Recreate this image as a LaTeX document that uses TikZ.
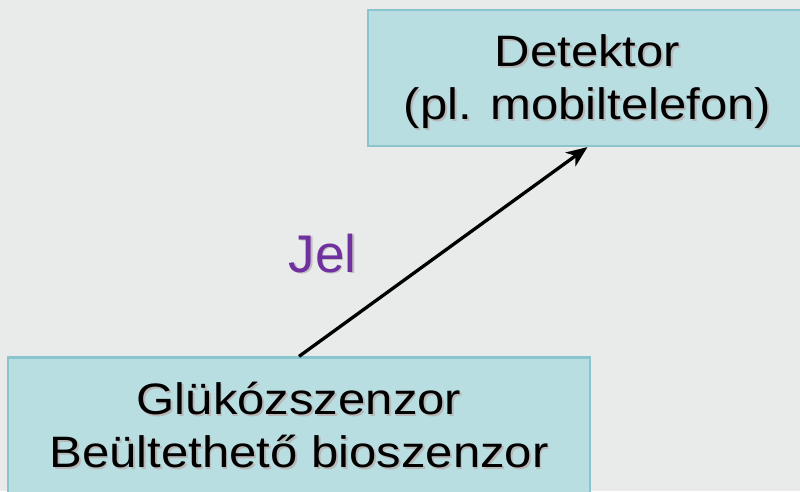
\documentclass[tikz,border=0pt]{standalone}
\usepackage{fontspec}
\setmainfont{Liberation Sans}
\newfontfamily\boxfont{Liberation Sans}[FakeStretch=1.115]
\usetikzlibrary{arrows.meta}
\definecolor{bgcol}{RGB}{233,234,234}
\definecolor{boxfill}{RGB}{185,222,226}
\definecolor{boxline}{RGB}{138,197,205}
\definecolor{sigcol}{RGB}{112,48,160}
% text with a soft grey drop shadow
\newcommand\shtxt[1]{\rlap{\kern1.8pt\raisebox{-1.8pt}{\textcolor{black!28}{#1}}}#1}
\tikzset{
  boxnode/.style={draw=boxline, line width=2.2pt, fill=boxfill, inner sep=0pt},
  boxtext/.style={anchor=base, inner sep=0pt, font=\boxfont\fontsize{44}{53}\selectfont},
  sigtext/.style={anchor=base, inner sep=0pt, text=sigcol, font=\fontsize{53}{60}\selectfont},
  sigarrow/.style={line width=3.3pt, -{Stealth[length=21pt, width=17pt, inset=6pt]}}
}
\begin{document}
\begin{tikzpicture}[x=1pt, y=-1pt]
  \fill[bgcol] (0,0) rectangle (800,491);
  \useasboundingbox (0,0) rectangle (800,491);
  \begin{scope}
    \clip (0,0) rectangle (800,491);
    % receiving device
    \node[boxnode, minimum width=439pt, minimum height=136pt] (det) at (587.5,78) {};
    \node[boxtext] (detA) at (587.5,66.7) {\shtxt{Detektor}};
    \node[boxtext] (detB) at (587.5,119.7) {\shtxt{(pl. mobiltelefon)}};
    % implanted sensor
    \node[boxnode, minimum width=582pt, minimum height=137pt] (sen) at (299,426) {};
    \node[boxtext] (senA) at (299,414.6) {\shtxt{Glükózszenzor}};
    \node[boxtext] (senB) at (299,467.8) {\shtxt{Beültethető bioszenzor}};
  \end{scope}
  % signal
  \draw[sigarrow] (sen.north) -- (det.south);
  \node[sigtext] (sig) at (322.5,272) {\rlap{\kern1.8pt\raisebox{-1.8pt}{\textcolor{black!25}{Jel}}}Jel};
\end{tikzpicture}
\end{document}
